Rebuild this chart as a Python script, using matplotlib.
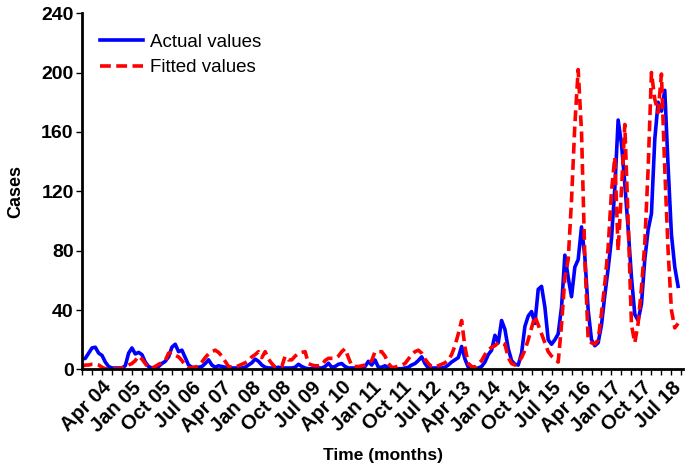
import matplotlib.pyplot as plt
from matplotlib.ticker import FixedLocator

plt.rcParams['font.family'] = ['Liberation Sans', 'DejaVu Sans']

# monthly series, Oct 2003 .. Sep 2018
actual = [
    7, 7.5, 11, 14.5, 15, 11, 9.5, 5, 2, 1,
    1, 1, 1, 2.5, 11, 14.5, 10.5, 11.5, 10, 5, 2, 1, 1, 2,
    4, 5.5, 8.5, 15, 17, 12, 13, 8, 3, 1.5,
    1.5, 1.5, 2, 4, 6.5, 3, 1.5, 2.5, 2, 1.5, 1, 1, 1, 1, 1, 1.5,
    3, 4.5, 7, 5.5, 3, 1.5, 1, 1, 1, 1.5, 1, 1, 1, 1, 1.5, 3.5, 2, 1, 0.5, 0.5,
    0.5, 1, 1, 2, 4.2, 1.5, 2, 3.5, 4, 2, 1, 1, 1, 1, 1, 2, 5.5, 3, 6.4, 1.5,
    1.5, 2.5, 1, 0.5, 0.5, 0.5, 0.5, 1, 1.5, 3,
    4, 6, 8.5, 4, 1, 1, 1, 1, 1, 1.5, 3, 5, 6.5, 8, 15.5, 7, 1.5, 0.5, 0.5, 1, 2,
    5, 10, 13, 23, 18, 33, 27, 14, 6, 3.5, 3, 11, 29, 36, 39, 31, 54, 56, 42, 20,
    17, 20, 24,
    42, 77, 62, 49, 69, 74, 96, 76, 40, 20, 16, 18, 30, 50, 68, 88,
    122, 168, 152, 125, 95, 62, 37, 33, 44, 74, 94, 105, 155, 180, 174, 188,
    137, 91, 69, 56,
]

fitted = [
    2, 3, 3, 3.5, 3.5, 3, 1.5, 0.5, 0.5, 0.5,
    0.5, 0.5, 1, 1.5, 3, 4, 6, 9, 7, 4, 1, 1, 2, 3.5,
    4.5, 6, 11, 11.5, 9.5, 8.5, 6, 3, 1, 1,
    1.5, 2.5, 5, 8, 10.5, 12, 13, 11.5, 9, 5.5, 2,
    1.5, 1.5, 2.5, 3.5, 4.5, 6, 8.5, 10, 12, 8, 12, 7, 4, 1.5, 1.5,
    2, 9, 6.5, 6.5, 9, 11, 11.5, 12, 4, 3, 2.5, 2.5, 3, 6, 7.5,
    7.5, 7.5, 9, 12, 14, 8, 2.5, 2, 2, 2.5, 3, 4, 6, 12, 12,
    12, 9, 4, 1.5, 1.5, 2.5, 3, 4, 7, 10,
    12, 13, 11, 7, 4, 2, 1.5, 2.5, 3.5, 4.5, 6.5, 10, 16, 24, 33, 15, 4, 2, 1.5,
    4, 6, 10, 13, 15,
    16, 18, 18, 17, 8, 4, 3, 5, 8, 13, 20, 28, 36, 30, 24, 18, 12, 9, 7, 5,
    30, 62, 74, 114, 165, 202, 160, 75, 20, 18, 17, 20, 38, 58, 82, 120,
    143, 80, 121, 165, 100, 30, 18, 31, 55, 85, 135, 200, 182, 173, 199, 135,
    80, 40, 28, 31,
]

tick_labels = ['Apr 04', 'Jan 05', 'Oct 05', 'Jul 06', 'Apr 07', 'Jan 08',
               'Oct 08', 'Jul 09', 'Apr 10', 'Jan 11', 'Oct 11', 'Jul 12',
               'Apr 13', 'Jan 14', 'Oct 14', 'Jul 15', 'Apr 16', 'Jan 17',
               'Oct 17', 'Jul 18']

months = list(range(len(actual)))
label_pos = [6 + 9 * k for k in range(len(tick_labels))]

fig = plt.figure(figsize=(6.85, 4.69), dpi=100)
ax = fig.add_axes([0.1197, 0.2122, 0.8775, 0.7598])

ax.plot(months, actual, color='#0000ff', lw=2.6, label='Actual values')
ax.plot(months, fitted, color='#ff0000', lw=2.6, ls=(0, (3.0, 1.5)),
        label='Fitted values')

ax.set_xlim(0, 180.5)
ax.set_ylim(0, 240)
ax.set_yticks(range(0, 241, 40))
ax.set_xticks(label_pos)
ax.set_xticklabels(tick_labels, rotation=45, ha='right', rotation_mode='anchor',
                   fontweight='bold', fontsize=14.5)
ax.xaxis.set_minor_locator(FixedLocator(range(0, 181, 3)))
for lab in ax.get_yticklabels():
    lab.set_fontweight('bold')
    lab.set_fontsize(14)

ax.tick_params(axis='both', which='both', direction='out', length=4,
               width=1, color='black')
ax.tick_params(axis='x', which='major', pad=2)
ax.tick_params(axis='y', which='major', pad=2)

for side in ['top', 'right']:
    ax.spines[side].set_visible(False)
for side in ['left', 'bottom']:
    ax.spines[side].set_linewidth(2)

ax.set_ylabel('Cases', fontweight='bold', fontsize=13, labelpad=12)
ax.set_xlabel('Time (months)', fontweight='bold', fontsize=12.5, labelpad=9)

ax.legend(loc='upper left', bbox_to_anchor=(0.002, 0.99), frameon=False,
          fontsize=13.5, handlelength=2.3, labelspacing=0.45, handletextpad=0.35)

fig.savefig('out.png', dpi=100)
